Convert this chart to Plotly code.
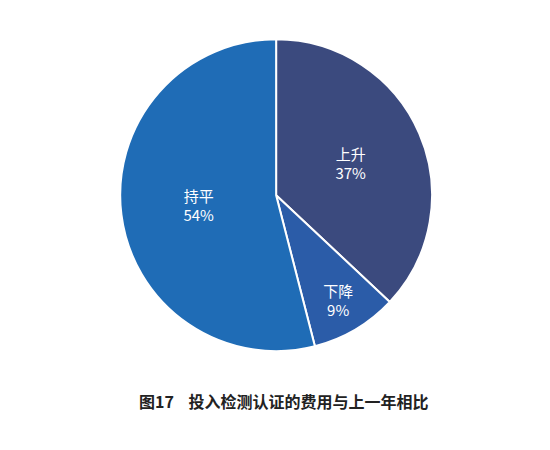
import plotly.graph_objects as go

labels = ["上升", "下降", "持平"]
values = [37, 9, 54]
colors = ["#3b4a7e", "#2b5ca8", "#1f6cb6"]

fig = go.Figure(go.Pie(
    labels=labels,
    values=values,
    sort=False,
    direction="clockwise",
    rotation=0,
    marker=dict(colors=colors, line=dict(color="white", width=2)),
    texttemplate="%{label}<br>%{value}%",
    textposition="inside",
    insidetextorientation="horizontal",
    textfont=dict(color="white", size=15, family="Noto Sans CJK SC"),
    domain=dict(x=[0.204, 0.771], y=[0.237, 0.931]),
    showlegend=False,
    hoverinfo="label+percent",
))

fig.add_annotation(
    text="<b>图17    投入检测认证的费用与上一年相比</b>",
    x=0.5, y=1 - 407 / 450, xref="paper", yref="paper",
    showarrow=False, font=dict(size=16, color="#222222", family="Noto Sans CJK SC"),
)

fig.update_layout(
    width=550, height=450,
    margin=dict(l=0, r=0, t=0, b=0),
    paper_bgcolor="white", plot_bgcolor="white",
)

fig.write_html("out.html")
